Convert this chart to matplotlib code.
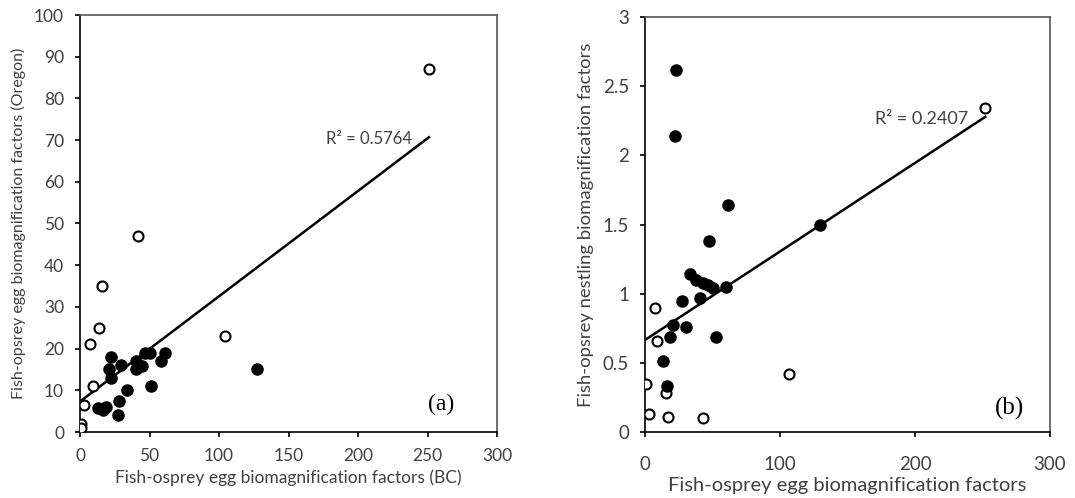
import numpy as np
import matplotlib.pyplot as plt

# panel (a): BC egg BMF vs Oregon egg BMF
a_open_x = [251, 42, 16, 14, 7, 104, 9, 3, 1, 1]
a_open_y = [87, 47, 35, 25, 21, 23, 11, 6.5, 2, 1]
a_fill_x = [22, 21, 22, 29.5, 40, 40, 44.7, 47, 50, 58, 61, 51, 34, 28, 27, 13, 16.6, 18.7, 127]
a_fill_y = [18, 15, 13, 16, 17, 15, 15.8, 19, 19, 17, 19, 11, 10, 7.5, 4, 5.8, 5.3, 6, 15]

# panel (b): BC egg BMF vs nestling BMF
b_open_x = [252, 7.4, 9, 1, 3, 15.6, 17, 43, 106.7]
b_open_y = [2.34, 0.90, 0.66, 0.35, 0.13, 0.28, 0.11, 0.10, 0.42]
b_fill_x = [23, 22, 61.5, 47.4, 129.6, 33, 38, 43, 47, 50, 60, 27.4, 41, 21, 30.5, 18.5, 52.6, 13.5, 16]
b_fill_y = [2.62, 2.14, 1.64, 1.38, 1.50, 1.14, 1.10, 1.08, 1.06, 1.04, 1.05, 0.95, 0.97, 0.77, 0.76, 0.69, 0.69, 0.51, 0.33]

# trend lines as shown on the chart (intercept, slope, r2)
a_fit = (7.3, 0.2525, 0.5764)
b_fit = (0.665, 0.00640, 0.2407)

grey = '#404040'
plt.rcParams['font.family'] = ['Lato', 'DejaVu Sans']

fig = plt.figure(figsize=(10.75, 4.98), dpi=100)
ax1 = fig.add_axes([80/1075, 1-432/498, (497-80)/1075, (432-15)/498])
ax2 = fig.add_axes([645/1075, 1-432/498, (1050-645)/1075, (432-17)/498])


def panel(ax, ox, oy, fx, fy, fit, tsize, xpad):
    ax.plot(ox, oy, 'o', ms=7.2, mfc='white', mec='black', mew=1.5, zorder=3)
    ax.plot(fx, fy, 'o', ms=8, mfc='black', mec='black', zorder=3)
    allx = np.array(ox + fx)
    xs = np.array([0, allx.max()])
    ax.plot(xs, fit[0] + fit[1]*xs, color='black', lw=1.8, zorder=2)
    for s in ax.spines.values():
        s.set_color('#555555')
        s.set_linewidth(1.2)
    ax.spines['left'].set_color('black')
    ax.spines['bottom'].set_color('black')
    ax.tick_params(direction='out', length=3.5, width=1.2, colors='black',
                   labelcolor=grey, labelsize=tsize)
    ax.tick_params(axis='y', pad=8)
    ax.tick_params(axis='x', pad=xpad)
    ax.set_xlim(0, 300)


panel(ax1, a_open_x, a_open_y, a_fill_x, a_fill_y, a_fit, 12.5, 8)
ax1.set_ylim(0, 100)
ax1.set_xticks([0, 50, 100, 150, 200, 250, 300])
ax1.set_yticks(range(0, 101, 10))
ax1.set_xlabel('Fish-osprey egg biomagnification factors (BC)', fontsize=12.5, color=grey, labelpad=4)
ax1.set_ylabel('Fish-opsrey egg biomagnification factors (Oregon)', fontsize=11.5, color=grey, labelpad=6)
ax1.text(208, 70.3, 'R² = %.4f' % a_fit[2], fontsize=12, color=grey, ha='center', va='center')
ax1.text(260, 6.5, '(a)', fontsize=17, family='Liberation Serif', ha='center', va='center')

panel(ax2, b_open_x, b_open_y, b_fill_x, b_fill_y, b_fit, 13.5, 14)
ax2.set_ylim(0, 3)
ax2.set_xticks([0, 100, 200, 300])
ax2.set_yticks([0, 0.5, 1, 1.5, 2, 2.5, 3])
ax2.set_yticklabels(['0', '0.5', '1', '1.5', '2', '2.5', '3'])
ax2.set_xlabel('Fish-osprey egg biomagnification factors', fontsize=14.5, color=grey, labelpad=3)
ax2.set_ylabel('Fish-opsrey nestling biomagnification factors', fontsize=13.3, color=grey, labelpad=6)
ax2.text(205, 2.26, 'R² = %.4f' % b_fit[2], fontsize=13, color=grey, ha='center', va='center')
ax2.text(270, 0.17, '(b)', fontsize=18, family='Liberation Serif', ha='center', va='center')

fig.savefig('out.png', dpi=100)
